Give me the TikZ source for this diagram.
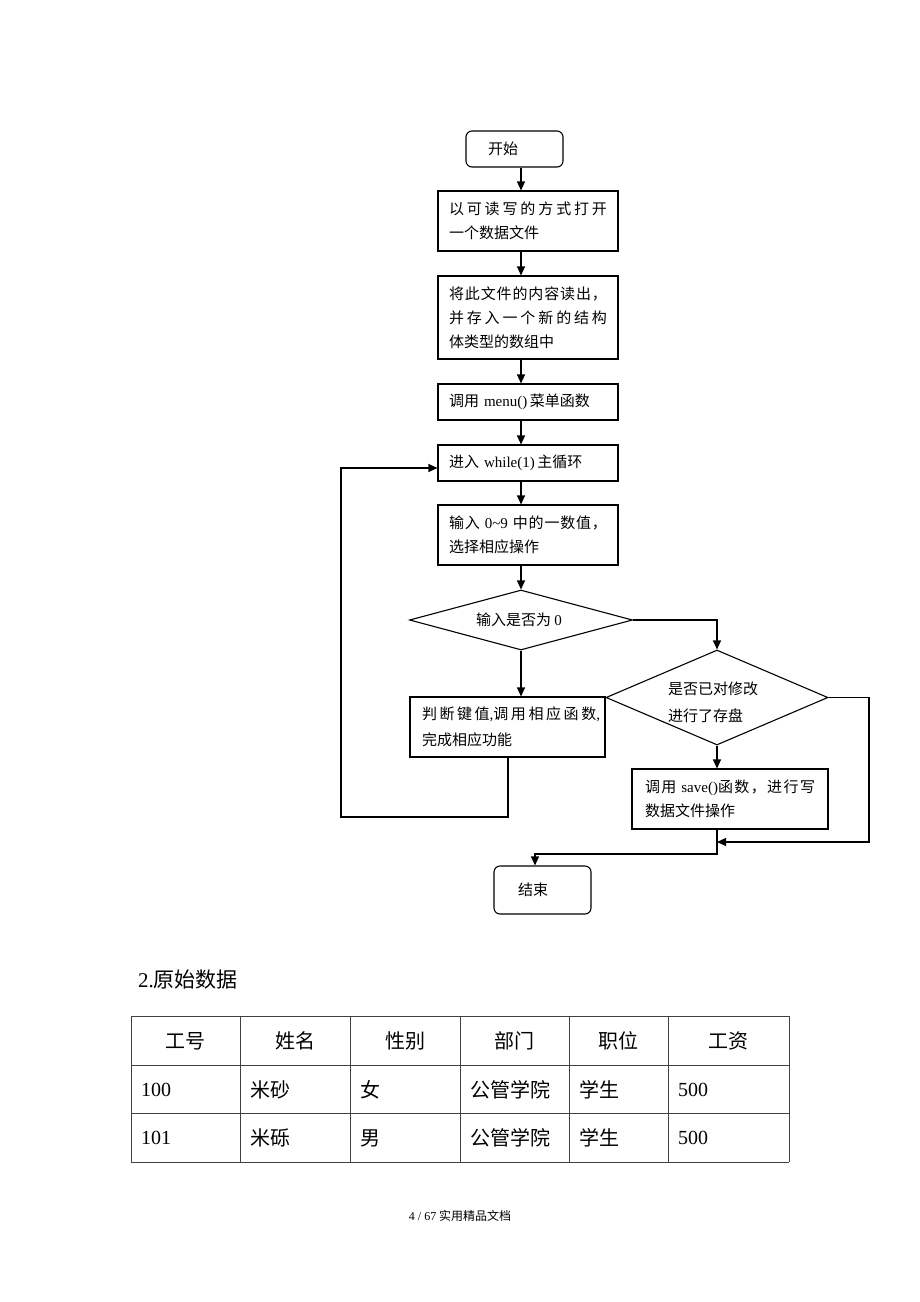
\documentclass[tikz,border=0pt]{standalone}
\usepackage{fontspec}
\setmainfont{Liberation Serif}
\newfontfamily\cjk{Noto Sans CJK SC}
\usetikzlibrary{shapes.geometric,arrows.meta}
\newcommand\zw[1]{{\cjk #1}}
\newcommand\latn[1]{{\rmfamily #1}}
\XeTeXinterchartokenstate=1
\newXeTeXintercharclass\cjkcls
\newcount\cjkc
\cjkc="4E00
\loop
  \XeTeXcharclass\cjkc=\cjkcls
  \ifnum\cjkc<"9FFF \advance\cjkc by 1
\repeat
\XeTeXcharclass"FF0C=\cjkcls
\XeTeXinterchartoks\cjkcls\cjkcls={\nobreak\hskip0pt plus 4pt\relax}
\begin{document}
\begin{tikzpicture}[x=1pt,y=-1pt,
  every node/.style={inner sep=0pt},
  fc/.style={font=\fontsize{15}{24}\selectfont\cjk},
  box/.style={draw, line width=1.1pt, rectangle, align=left, inner xsep=11pt, inner ysep=0pt, fc},
  term/.style={draw, line width=1.1pt, rectangle, rounded corners=6pt, align=left, inner ysep=0pt, fc},
  dia/.style={draw, line width=1.1pt, diamond, inner sep=0pt},
  arr/.style={line width=1.1pt, -{Triangle[length=9pt,width=8pt]}},
  tl/.style={line width=1pt, draw=black!75},
  hcell/.style={font=\fontsize{20}{24}\selectfont\cjk},
  cell/.style={font=\fontsize{20}{24}\selectfont\cjk, anchor=west}
]
\useasboundingbox (0,0) rectangle (920,1302);

% ---------- flowchart nodes ----------
\node[term, minimum width=97pt, minimum height=36pt, text width=53pt, inner xsep=22pt] (start) at (514.5,149) {开始};
\node[box, minimum width=180pt, minimum height=60pt, text width=158pt] (b1) at (528,221)
  {\makebox[158pt][s]{以可读写的方式打开}\\一个数据文件};
\node[box, minimum width=180pt, minimum height=83pt, text width=158pt] (b2) at (528,317.5)
  {\makebox[158pt][s]{将此文件的内容读出，}\\\makebox[158pt][s]{并存入一个新的结构}\\体类型的数组中};
\node[box, minimum width=180pt, minimum height=36pt, text width=158pt] (b3) at (528,402)
  {调用 \latn{menu()}\,菜单函数};
\node[box, minimum width=180pt, minimum height=36pt, text width=158pt] (b4) at (528,463)
  {进入 \latn{while(1)}\,主循环};
\node[box, minimum width=180pt, minimum height=60pt, text width=158pt] (b5) at (528,535)
  {\makebox[158pt][s]{输入 \latn{0\textasciitilde 9} 中的一数值，}\\选择相应操作};
\node[dia, minimum width=223pt, minimum height=60pt] (d1) at (521,620) {};
\node[fc] (t1) at (519,620) {输入是否为 \latn{0}};
\node[dia, minimum width=222pt, minimum height=95pt] (d2) at (717,697.5) {};
\node[fc, font=\fontsize{15}{27}\selectfont\cjk, align=left, anchor=west] (t2) at (668,702) {是否已对修改\\进行了存盘};
\node[box, font=\fontsize{15}{26}\selectfont\cjk, minimum width=195pt, minimum height=60pt, text width=171pt, inner xsep=12pt] (b6) at (507.5,727)
  {\makebox[178pt][s]{判断键值\latn{,}调用相应函数\latn{,}}\\完成相应功能};
\node[box, minimum width=196pt, minimum height=60pt, text width=170pt, inner xsep=13pt] (b7) at (730,799)
  {\makebox[170pt][s]{调用 \latn{save()}函数，进行写}\\数据文件操作};
\node[term, minimum width=97pt, minimum height=48pt, text width=49pt, inner xsep=24pt] (end) at (542.5,890) {结束};

% ---------- connectors ----------
\coordinate (sp) at (521,0);
\draw[arr] (start.south -| sp) -- (b1.north -| sp);
\draw[arr] (b1.south -| sp) -- (b2.north -| sp);
\draw[arr] (b2.south -| sp) -- (b3.north -| sp);
\draw[arr] (b3.south -| sp) -- (b4.north -| sp);
\draw[arr] (b4.south -| sp) -- (b5.north -| sp);
\draw[arr] (b5.south -| sp) -- (d1.north);
\draw[arr] (d1.south) -- (b6.north -| d1.south);
\draw[arr] (d1.east) -| (d2.north);
\draw[arr] (d2.south) -- (b7.north -| d2.south);
\coordinate (loopB) at (508,817);
\coordinate (loopL) at (341,817);
\draw[arr] (b6.south -| loopB) -- (loopB) -- (loopL) |- ([yshift=-5pt]b4.west);
\coordinate (rX) at (869,842);
\draw[arr] (d2.east) -| (rX) -- (rX -| d2.south);
\coordinate (j) at (535,854);
\draw[arr] (b7.south -| d2.south) |- (j) -- (j |- end.north);

% ---------- heading ----------
\node[font=\fontsize{21}{24}\selectfont\cjk, anchor=west] (head) at (138,980) {\latn{2.}原始数据};

% ---------- table ----------
\foreach \yy in {1016,1065,1113,1162} \draw[tl] (131,\yy) -- (789,\yy);
\foreach \xx in {131,240,350,460,569,668,789} \draw[tl] (\xx,1016) -- (\xx,1162);
\node[hcell] (h1) at (185.5,1041) {工号};
\node[hcell] (h2) at (295,1041) {姓名};
\node[hcell] (h3) at (405,1041) {性别};
\node[hcell] (h4) at (514.5,1041) {部门};
\node[hcell] (h5) at (618.5,1041) {职位};
\node[hcell] (h6) at (728.5,1041) {工资};
\node[cell] (r1c1) at (141,1090) {\latn{100}};
\node[cell] (r1c2) at (250,1090) {米砂};
\node[cell] (r1c3) at (360,1090) {女};
\node[cell] (r1c4) at (470,1090) {公管学院};
\node[cell] (r1c5) at (579,1090) {学生};
\node[cell] (r1c6) at (678,1090) {\latn{500}};
\node[cell] (r2c1) at (141,1138) {\latn{101}};
\node[cell] (r2c2) at (250,1138) {米砾};
\node[cell] (r2c3) at (360,1138) {男};
\node[cell] (r2c4) at (470,1138) {公管学院};
\node[cell] (r2c5) at (579,1138) {学生};
\node[cell] (r2c6) at (678,1138) {\latn{500}};

% ---------- footer ----------
\node[font=\fontsize{12}{14}\selectfont\cjk] (foot) at (460,1216) {\latn{4 / 67} 实用精品文档};
\end{tikzpicture}
\end{document}
